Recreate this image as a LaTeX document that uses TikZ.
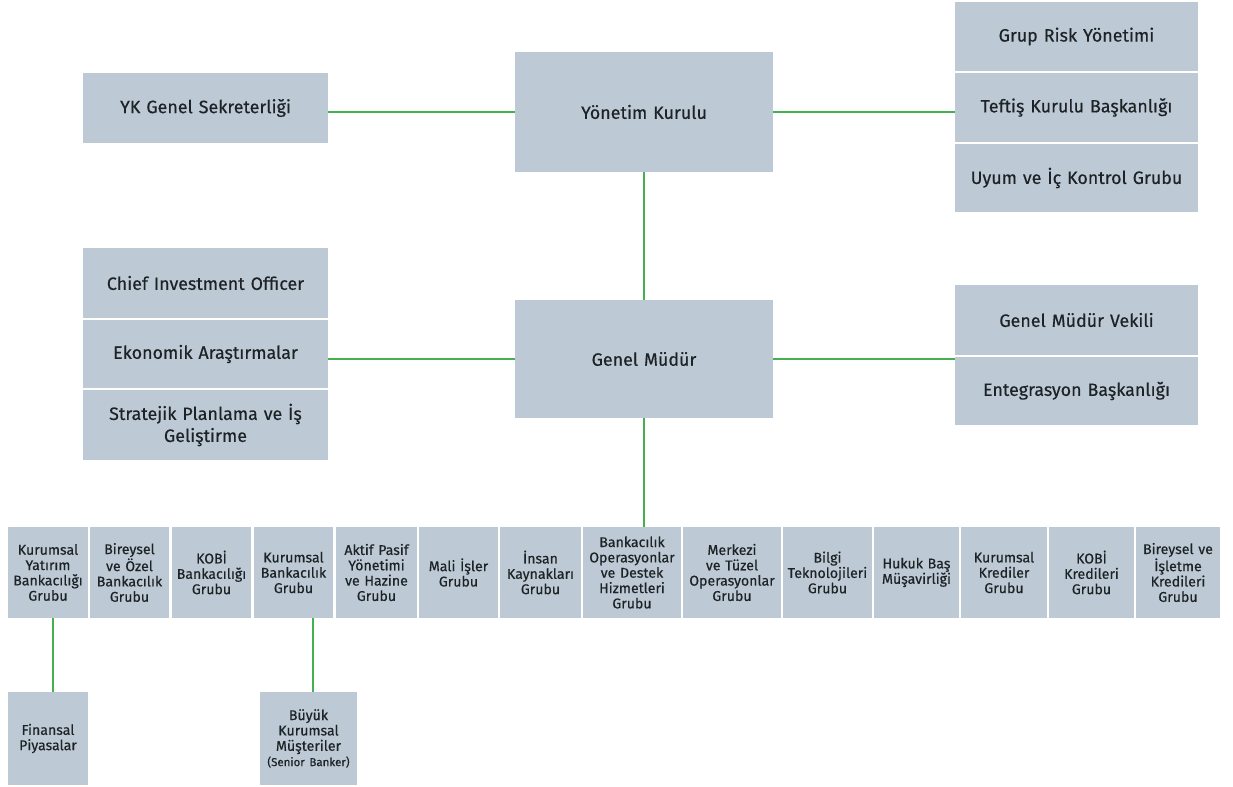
\documentclass[tikz,border=0pt]{standalone}
\usepackage{fontspec}
\setmainfont{Fira Sans}[UprightFeatures={FakeBold=0.35}]
\definecolor{boxfill}{HTML}{BDC9D4}
\definecolor{linegreen}{HTML}{46B04F}
\definecolor{txt}{HTML}{1C2226}
\newcommand{\mkbox}[7][]{%
  \pgfmathsetmacro\bxw{(#5-#3)*0.75}%
  \pgfmathsetmacro\bxh{(#6-#4)*0.75}%
  \pgfmathsetmacro\bxt{(#5-#3)*0.75-1}%
  \node[boxst,#1,minimum width=\bxw pt,minimum height=\bxh pt,text width=\bxt pt] (#2) at ({(#3+#5)/2},{(#4+#6)/2}) {#7};}
\tikzset{
  boxst/.style={fill=boxfill,draw=none,inner sep=0pt,align=center,text=txt,font=\fontsize{13.4}{16.5}\selectfont},
  small/.style={font=\fontsize{10.6}{11.5}\selectfont},
  conn/.style={draw=linegreen,line width=1.5pt}
}
\begin{document}
\begin{tikzpicture}[x=0.75pt,y=-0.75pt]
\useasboundingbox (0,0) rectangle (1233,787);
% top level
\mkbox{ykgs}{83}{73}{328}{143}{YK Genel Sekreterliği}
\mkbox{yk}{515}{52}{773}{172}{Yönetim Kurulu}
\mkbox{r1}{955}{2}{1198}{71}{Grup Risk Yönetimi}
\mkbox{r2}{955}{73}{1198}{142}{Teftiş Kurulu Başkanlığı}
\mkbox{r3}{955}{144}{1198}{212}{Uyum ve İç Kontrol Grubu}
% second level
\mkbox{l1}{83}{248}{328}{318}{Chief Investment Officer}
\mkbox{l2}{83}{320}{328}{388}{Ekonomik Araştırmalar}
\mkbox{l3}{83}{390}{328}{460}{Stratejik Planlama ve İş\\Geliştirme}
\mkbox{gm}{515}{300}{773}{418}{Genel Müdür}
\mkbox{s1}{955}{285}{1198}{355}{Genel Müdür Vekili}
\mkbox{s2}{955}{357}{1198}{425}{Entegrasyon Başkanlığı}
% bottom row
\mkbox[small]{b1}{8}{527}{88}{618}{Kurumsal\\Yatırım\\Bankacılığı\\Grubu}
\mkbox[small]{b2}{90}{527}{169}{618}{Bireysel\\ve Özel\\Bankacılık\\Grubu}
\mkbox[small]{b3}{172}{527}{251}{618}{KOBİ\\Bankacılığı\\Grubu}
\mkbox[small]{b4}{254}{527}{333}{618}{Kurumsal\\Bankacılık\\Grubu}
\mkbox[small]{b5}{336}{527}{417}{618}{Aktif Pasif\\Yönetimi\\ve Hazine\\Grubu}
\mkbox[small]{b6}{419}{527}{498}{618}{Mali İşler\\Grubu}
\mkbox[small]{b7}{500}{527}{581}{618}{İnsan\\Kaynakları\\Grubu}
\mkbox[small]{b8}{583}{527}{681}{618}{Bankacılık\\Operasyonlar\\ve Destek\\Hizmetleri\\Grubu}
\mkbox[small]{b9}{683}{527}{781}{618}{Merkezi\\ve Tüzel\\Operasyonlar\\Grubu}
\mkbox[small]{b10}{783}{527}{872}{618}{Bilgi\\Teknolojileri\\Grubu}
\mkbox[small]{b11}{874}{527}{959}{618}{Hukuk Baş\\Müşavirliği}
\mkbox[small]{b12}{961}{527}{1047}{618}{Kurumsal\\Krediler\\Grubu}
\mkbox[small]{b13}{1049}{527}{1134}{618}{KOBİ\\Kredileri\\Grubu}
\mkbox[small]{b14}{1136}{527}{1220}{618}{Bireysel ve\\İşletme\\Kredileri\\Grubu}
% children
\mkbox[small]{fp}{8}{692}{88}{785}{Finansal\\Piyasalar}
\mkbox[small]{bk}{260}{692}{357}{785}{Büyük\\Kurumsal\\Müşteriler\\{\fontsize{8.6}{11}\selectfont(Senior Banker)}}
% connectors
\draw[conn] (yk.west) -- (yk.west -| ykgs.east);
\draw[conn] (yk.east) -- (yk.east -| r2.west);
\draw[conn] (yk.south) -- (gm.north);
\draw[conn] (gm.west) -- (gm.west -| l2.east);
\draw[conn] (gm.east) -- (gm.east -| s1.west);
\draw[conn] (gm.south) -- (gm.south |- b8.north);
\path ([xshift=3.75pt]fp.north) coordinate (fpt);
\draw[conn] (fpt) -- (fpt |- b1.south);
\path ([xshift=3pt]bk.north) coordinate (bkt);
\draw[conn] (bkt) -- (bkt |- b4.south);
\end{tikzpicture}
\end{document}
